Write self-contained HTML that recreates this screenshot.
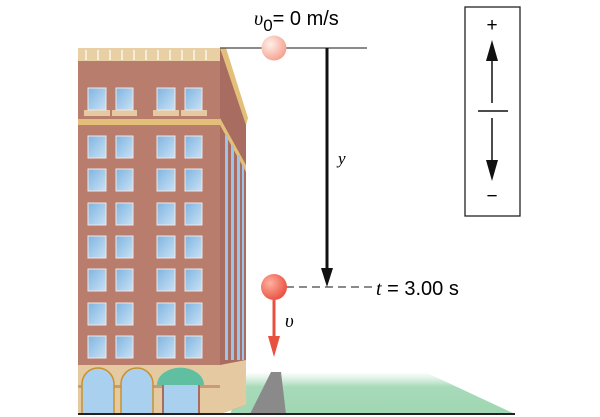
<!DOCTYPE html>
<html><head><style>body{margin:0;background:#fff}svg{display:block}</style></head><body>
<svg width="600" height="417" viewBox="0 0 600 417" xmlns="http://www.w3.org/2000/svg" font-family="Liberation Sans, sans-serif">
<defs>
<linearGradient id="g" x1="0" y1="0" x2="0" y2="1"><stop offset="0" stop-color="#bfe3cc" stop-opacity="0"/><stop offset="0.35" stop-color="#a8dab9"/><stop offset="1" stop-color="#9fd6b2"/></linearGradient>
<radialGradient id="b1" cx="0.35" cy="0.35" r="0.7"><stop offset="0" stop-color="#fff0ea"/><stop offset="1" stop-color="#f5a08e"/></radialGradient>
<radialGradient id="b2" cx="0.35" cy="0.35" r="0.7"><stop offset="0" stop-color="#ffb0a0"/><stop offset="1" stop-color="#e8503f"/></radialGradient>
<linearGradient id="w" x1="0" y1="0" x2="1" y2="1"><stop offset="0" stop-color="#7fb4e0"/><stop offset="1" stop-color="#c9e2f5"/></linearGradient>
</defs>
<polygon points="248,372 425,372 515,414 230,414" fill="url(#g)"/>
<polygon points="271,372 281,372 286,414 250,414" fill="#8a8a8a"/>
<polygon points="220,48 246,118 246,405 220,414" fill="#a86d60"/>
<polygon points="220,48 226,48 248,118 246,125" fill="#e2c07a"/>
<polygon points="220,118 246,165 246,172 220,125" fill="#e2c07a"/>
<g fill="#9cc4e8">
<rect x="225" y="135" width="3" height="225"/><rect x="231" y="145" width="3" height="215"/><rect x="237" y="155" width="3" height="205"/><rect x="242" y="165" width="2" height="195"/>
</g>
<polygon points="220,365 246,360 246,405 220,414" fill="#e5c9a0"/>
<rect x="78" y="48" width="142" height="366" fill="#b97d6d"/>
<rect x="78" y="48" width="142" height="13" fill="#e8cfa4"/>
<g stroke="#fff" stroke-width="1.5" opacity="0.8">
<line x1="86" y1="50" x2="86" y2="60"/><line x1="98" y1="50" x2="98" y2="60"/><line x1="110" y1="50" x2="110" y2="60"/><line x1="122" y1="50" x2="122" y2="60"/><line x1="134" y1="50" x2="134" y2="60"/><line x1="146" y1="50" x2="146" y2="60"/><line x1="158" y1="50" x2="158" y2="60"/><line x1="170" y1="50" x2="170" y2="60"/><line x1="182" y1="50" x2="182" y2="60"/><line x1="194" y1="50" x2="194" y2="60"/><line x1="206" y1="50" x2="206" y2="60"/>
</g>
<rect x="78" y="119" width="142" height="6" fill="#e2c07a"/>
<g fill="#e5c9a0"><rect x="84" y="110" width="26" height="6"/><rect x="112" y="110" width="25" height="6"/><rect x="153" y="110" width="26" height="6"/><rect x="181" y="110" width="26" height="6"/></g>
<g fill="url(#w)" stroke="#f0e6e6" stroke-width="1">
<rect x="88" y="88" width="18" height="22"/><rect x="116" y="88" width="17" height="22"/><rect x="157" y="88" width="18" height="22"/><rect x="185" y="88" width="17" height="22"/>
</g>
<g id="r" fill="url(#w)" stroke="#f0e6e6" stroke-width="1">
<rect x="88" y="136" width="18" height="22"/><rect x="116" y="136" width="17" height="22"/><rect x="157" y="136" width="18" height="22"/><rect x="185" y="136" width="17" height="22"/>
</g>
<use href="#r" y="33"/><use href="#r" y="67"/><use href="#r" y="100"/><use href="#r" y="133"/><use href="#r" y="167"/><use href="#r" y="200"/>
<rect x="78" y="365" width="142" height="49" fill="#e5c9a0"/>
<rect x="78" y="385" width="142" height="3" fill="#c99a7a"/>
<path d="M82,414 V384 A16,16 0 0 1 114,384 V414Z" fill="#a9d0ef" stroke="#c9912c" stroke-width="1.5"/>
<path d="M121,414 V384 A16,16 0 0 1 153,384 V414Z" fill="#a9d0ef" stroke="#c9912c" stroke-width="1.5"/>
<rect x="163" y="384" width="36" height="30" fill="#a9d0ef" stroke="#a86d60" stroke-width="2"/>
<path d="M157,385 A23,17 0 0 1 204,385Z" fill="#5fbfa0"/>
<line x1="78" y1="414" x2="515" y2="414" stroke="#222" stroke-width="2"/>
<line x1="220" y1="48" x2="367" y2="48" stroke="#444" stroke-width="1.3"/>
<circle cx="274" cy="48" r="12.5" fill="url(#b1)"/>
<line x1="327" y1="48" x2="327" y2="272" stroke="#111" stroke-width="3"/>
<polygon points="321,268 333,268 327,287" fill="#111"/>
<line x1="286" y1="287" x2="372" y2="287" stroke="#444" stroke-width="1.3" stroke-dasharray="8,5"/>
<circle cx="274" cy="287" r="13" fill="url(#b2)"/>
<line x1="274" y1="300" x2="274" y2="340" stroke="#e8503f" stroke-width="3"/>
<polygon points="268,336 280,336 274,357" fill="#e8503f"/>
<text x="338" y="164" font-family="Liberation Serif, serif" font-style="italic" font-size="17">y</text>
<text x="285" y="327" font-family="Liberation Serif, serif" font-style="italic" font-size="19">υ</text>
<text x="254" y="25" font-size="20"><tspan font-family="Liberation Serif, serif" font-style="italic">υ</tspan><tspan font-size="17" dy="6">0</tspan><tspan dy="-6">= 0 m/s</tspan></text>
<text x="376" y="295" font-size="20"><tspan font-family="Liberation Serif, serif" font-style="italic">t</tspan> = 3.00 s</text>
<rect x="465" y="7" width="55" height="209" fill="#fff" stroke="#222" stroke-width="1.3"/>
<text x="492" y="31" font-size="19" text-anchor="middle">+</text>
<line x1="492" y1="55" x2="492" y2="103" stroke="#111" stroke-width="1.5"/>
<polygon points="486,61 498,61 492,40" fill="#111"/>
<line x1="478" y1="111" x2="508" y2="111" stroke="#111" stroke-width="1.5"/>
<line x1="492" y1="118" x2="492" y2="166" stroke="#111" stroke-width="1.5"/>
<polygon points="486,160 498,160 492,181" fill="#111"/>
<text x="492" y="202" font-size="19" text-anchor="middle">−</text>
</svg>
</body></html>
